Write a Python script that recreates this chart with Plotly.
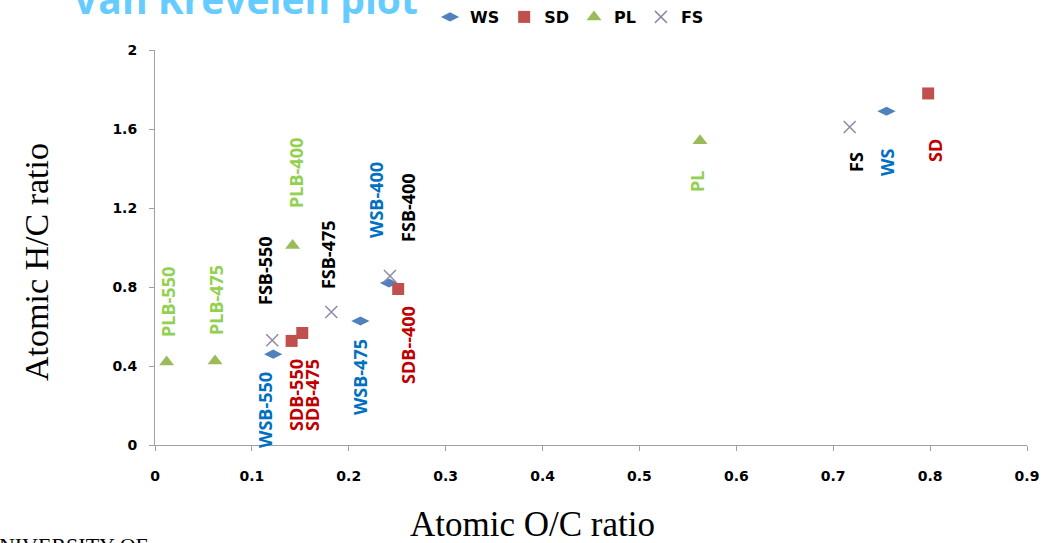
import plotly.graph_objects as go

# ---- data ----
series_names = ["WS", "SD", "PL", "FS"]
ws_oc = [0.122, 0.212, 0.2415, 0.755]
ws_hc = [0.46, 0.628, 0.82, 1.69]
sd_oc = [0.141, 0.152, 0.251, 0.798]
sd_hc = [0.527, 0.567, 0.79, 1.78]
pl_oc = [0.012, 0.062, 0.142, 0.5625]
pl_hc = [0.42, 0.425, 1.01, 1.54]
fs_oc = [0.121, 0.182, 0.2425, 0.717]
fs_hc = [0.53, 0.673, 0.856, 1.61]

x_ticks = [0, 0.1, 0.2, 0.3, 0.4, 0.5, 0.6, 0.7, 0.8, 0.9]
x_tick_labels = ["0", "0.1", "0.2", "0.3", "0.4", "0.5", "0.6", "0.7", "0.8", "0.9"]
y_ticks = [0, 0.4, 0.8, 1.2, 1.6, 2.0]
y_tick_labels = ["0", "0.4", "0.8", "1.2", "1.6", "2"]

label_texts = ["PLB-550", "PLB-475", "FSB-550", "PLB-400", "FSB-475", "WSB-400",
               "FSB-400", "WSB-550", "SDB-550", "SDB-475", "WSB-475", "SDB--400",
               "PL", "FS", "WS", "SD"]
label_x = [0.0134, 0.063, 0.1135, 0.1455, 0.1786, 0.228, 0.261, 0.1135, 0.1455,
           0.162, 0.2116, 0.261, 0.5594, 0.7235, 0.7555, 0.805]
label_y = [0.724, 0.734, 0.886, 1.377, 0.962, 1.24, 1.205, 0.177, 0.253, 0.253,
           0.344, 0.506, 1.332, 1.433, 1.428, 1.494]
label_group = ["PL", "PL", "FS", "PL", "FS", "WS", "FS", "WS", "SD", "SD", "WS", "SD",
               "PL", "FS", "WS", "SD"]

# ---- styles ----
marker_style = {
    "WS": dict(symbol="diamond-wide", size=13, color="#4F81BD"),
    "SD": dict(symbol="square", size=12, color="#C0504D"),
    "PL": dict(symbol="triangle-up", size=13, color="#9BBB59"),
    "FS": dict(symbol="x-thin", size=12, color="#8E8AA6",
               line=dict(width=1.5, color="#8E8AA6")),
}
label_color = {"WS": "#0070C0", "SD": "#C00000", "PL": "#92D050", "FS": "#000000"}

W, H = 1045, 543
L, R, T, B = 155, 18, 50, 98
PW, PH = W - L - R, H - T - B


def px_x(px):
    return (px - L) / PW


def px_y(py):
    return (H - B - py) / PH


fig = go.Figure()
for name, xs, ys in [("WS", ws_oc, ws_hc), ("SD", sd_oc, sd_hc),
                     ("PL", pl_oc, pl_hc), ("FS", fs_oc, fs_hc)]:
    fig.add_trace(go.Scatter(x=xs, y=ys, mode="markers", name=name,
                             marker=marker_style[name]))

annotations = []
for t, x, y, g in zip(label_texts, label_x, label_y, label_group):
    annotations.append(dict(x=x, y=y, xref="x", yref="y", text=t, showarrow=False,
                            textangle=-90, xanchor="center", yanchor="middle",
                            font=dict(family="Open Sans", size=18, color=label_color[g],
                                      weight="bold")))

# title (clipped at top)
annotations.append(dict(x=px_x(71), y=px_y(27), xref="paper", yref="paper",
                        text="Van Krevelen plot", showarrow=False,
                        xanchor="left", yanchor="bottom",
                        font=dict(family="Open Sans", size=39, color="#66CCFF",
                                  weight="bold")))
# axis titles
annotations.append(dict(x=px_x(36), y=px_y(262), xref="paper", yref="paper",
                        text="Atomic H/C ratio", showarrow=False, textangle=-90,
                        xanchor="center", yanchor="middle",
                        font=dict(family="Liberation Serif", size=34, color="#000000")))
annotations.append(dict(x=px_x(532), y=px_y(524), xref="paper", yref="paper",
                        text="Atomic O/C ratio", showarrow=False,
                        xanchor="center", yanchor="middle",
                        font=dict(family="Liberation Serif", size=35, color="#000000")))
# clipped footer text
annotations.append(dict(x=px_x(150), y=px_y(531), xref="paper", yref="paper",
                        text="UNIVERSITY OF", showarrow=False,
                        xanchor="right", yanchor="top",
                        font=dict(family="Liberation Serif", size=22, color="#000000")))

fig.update_layout(
    width=W, height=H,
    margin=dict(l=L, r=R, t=T, b=B, pad=0, autoexpand=False),
    paper_bgcolor="white", plot_bgcolor="white",
    showlegend=True,
    legend=dict(orientation="h", x=px_x(430), y=px_y(0), xanchor="left", yanchor="top",
                font=dict(family="DejaVu Sans", size=16, color="#000000", weight="bold"),
                itemwidth=30, tracegroupgap=0, bgcolor="rgba(0,0,0,0)"),
    annotations=annotations,
)
fig.update_xaxes(range=[0, 0.9], tickmode="array", tickvals=x_ticks, ticktext=x_tick_labels,
                 showgrid=False, zeroline=False, showline=True, linecolor="#A0A0A0",
                 linewidth=1, ticks="outside", ticklen=5, tickcolor="#A0A0A0",
                 ticklabelstandoff=13, automargin=False,
                 tickfont=dict(family="DejaVu Sans", size=14, color="#000000", weight="bold"))
fig.update_yaxes(range=[0, 2], tickmode="array", tickvals=y_ticks, ticktext=y_tick_labels,
                 showgrid=False, zeroline=False, showline=True, linecolor="#A0A0A0",
                 linewidth=1, ticks="outside", ticklen=5, tickcolor="#A0A0A0",
                 ticklabelstandoff=9, automargin=False,
                 tickfont=dict(family="DejaVu Sans", size=14, color="#000000", weight="bold"))

fig.write_html("out.html")
